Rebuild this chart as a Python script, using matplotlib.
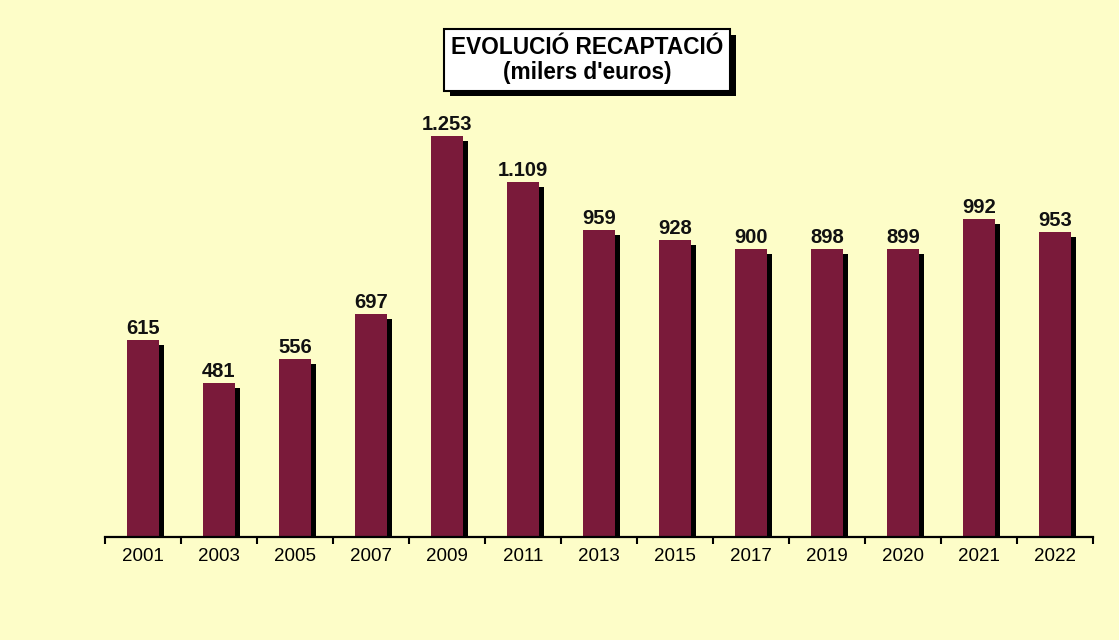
import matplotlib
matplotlib.use("Agg")
import numpy as np
from matplotlib import pyplot as plt
from matplotlib import patheffects as pe

plt.rcParams['font.family'] = ['Liberation Sans', 'DejaVu Sans']

# data (thousands of euros)
years = ['2001', '2003', '2005', '2007', '2009', '2011', '2013',
         '2015', '2017', '2019', '2020', '2021', '2022']
values = [615, 481, 556, 697, 1253, 1109, 959, 928, 900, 898, 899, 992, 953]
labels = ['615', '481', '556', '697', '1.253', '1.109', '959',
          '928', '900', '898', '899', '992', '953']

bg = '#fdfdc8'
bar_col = '#7a1a3a'

fig = plt.figure(figsize=(11.19, 6.40), dpi=100, facecolor=bg)
ax = fig.add_axes([0.0938, 0.161, 0.883, 0.808])
ax.set_facecolor(bg)

x = np.arange(len(years))
shadow = [pe.SimplePatchShadow(offset=(3.6, -3.6), shadow_rgbFace='black', alpha=1.0),
          pe.Normal()]
bars = ax.bar(x, values, width=0.43, color=bar_col, edgecolor='none', zorder=2)
for b in bars:
    b.set_path_effects(shadow)

for xi, v, lab in zip(x, values, labels):
    ax.annotate(lab, (xi, v), xytext=(0, 1.5), textcoords='offset points',
                ha='center', va='bottom', fontsize=14.5, fontweight='bold', color='#111111')

ax.set_xlim(-0.5, len(years) - 0.5)
ax.set_ylim(0, 1615)

for s in ['top', 'right', 'left']:
    ax.spines[s].set_visible(False)
ax.spines['bottom'].set_linewidth(1.6)
ax.spines['bottom'].set_zorder(5)
ax.set_yticks([])

# ticks sit between categories, labels under each bar
ax.set_xticks(np.arange(len(years) + 1) - 0.5)
ax.set_xticklabels([])
ax.set_xticks(x, minor=True)
ax.set_xticklabels(years, minor=True, fontsize=13.5)
ax.tick_params(axis='x', which='major', direction='out', length=5, width=1.5)
ax.tick_params(axis='x', which='minor', length=0, pad=8)

# boxed title with drop shadow
title = fig.text(0.525, 0.906, "EVOLUCIÓ RECAPTACIÓ\n(milers d'euros)", ha='center', va='center',
                 fontsize=16.3, fontweight='bold', linespacing=1.1,
                 bbox=dict(boxstyle='square,pad=0.3', facecolor='white', edgecolor='black', linewidth=1.5))
title.get_bbox_patch().set_path_effects([pe.SimplePatchShadow(offset=(4, -4), shadow_rgbFace='black', alpha=1.0),
                                         pe.Normal()])

fig.savefig('out.png', dpi=100, facecolor=bg)
